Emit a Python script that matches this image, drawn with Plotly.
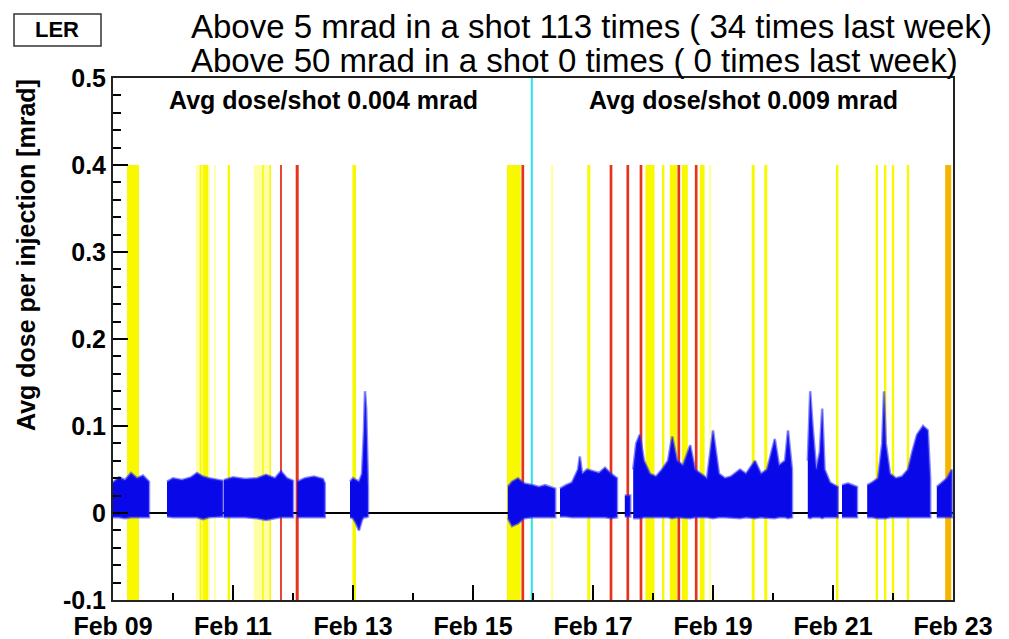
import plotly.graph_objects as go
import pandas as pd

BASE = pd.Timestamp("2021-02-09")

# ---------------- data (day offsets from Feb 09 00:00) ----------------
x_tick_days = [0, 2, 4, 6, 8, 10, 12, 14]
x_tick_text = ["Feb 09", "Feb 11", "Feb 13", "Feb 15", "Feb 17", "Feb 19", "Feb 21", "Feb 23"]
y_tick_vals = [-0.1, 0.0, 0.1, 0.2, 0.3, 0.4, 0.5]
y_tick_text = ["-0.1", "0", "0.1", "0.2", "0.3", "0.4", "0.5"]

# injection flags: bright yellow (centre day, width day)
yellow_center = [0.333, 1.46, 1.54, 1.93, 2.50, 2.62, 4.02, 6.68, 7.93, 8.95, 9.17, 9.34,
                 9.53, 9.82, 10.67, 10.88, 12.07, 12.73, 12.87, 13.0, 13.25]
yellow_width = [0.2, 0.03, 0.09, 0.04, 0.025, 0.025, 0.06, 0.23, 0.05, 0.15, 0.04, 0.12,
                0.1, 0.08, 0.05, 0.05, 0.04, 0.04, 0.04, 0.04, 0.04]
pale_center = [1.5, 1.70, 2.48, 7.32, 9.95]
pale_width = [0.23, 0.03, 0.27, 0.04, 0.04]
orange_center = [13.92]
orange_width = [0.1]
red_center = [2.8, 3.07, 6.83, 8.3, 8.58, 8.8, 9.43, 9.72]
red_width = [0.03, 0.05, 0.045, 0.045, 0.045, 0.045, 0.045, 0.045]
cyan_center = [6.98]
cyan_width = [0.035]
flag_top = 0.4

# dose per injection: envelopes of dense point clouds per run period
seg_A_x = [0.0, 0.1, 0.2, 0.3, 0.4, 0.5, 0.6]
seg_A_top = [0.035, 0.041, 0.038, 0.046, 0.040, 0.043, 0.036]
seg_A_low = [-0.005, -0.005, -0.006, -0.005, -0.005, -0.005, -0.005]
seg_B_x = [0.9, 1.0, 1.15, 1.3, 1.4, 1.5, 1.6, 1.7, 1.83]
seg_B_top = [0.036, 0.040, 0.038, 0.041, 0.046, 0.042, 0.040, 0.039, 0.037]
seg_B_low = [-0.004, -0.005, -0.005, -0.005, -0.005, -0.007, -0.005, -0.005, -0.004]
seg_C_x = [1.85, 2.0, 2.2, 2.4, 2.55, 2.7, 2.8, 2.9, 3.0]
seg_C_top = [0.038, 0.041, 0.039, 0.040, 0.044, 0.040, 0.048, 0.040, 0.037]
seg_C_low = [-0.005, -0.005, -0.005, -0.006, -0.008, -0.006, -0.005, -0.005, -0.005]
seg_D_x = [3.07, 3.2, 3.35, 3.5, 3.53]
seg_D_top = [0.036, 0.040, 0.042, 0.039, 0.034]
seg_D_low = [-0.005, -0.005, -0.005, -0.005, -0.005]
seg_E_x = [3.95, 4.0, 4.05, 4.1, 4.15, 4.18, 4.2, 4.22, 4.25]
seg_E_top = [0.036, 0.040, 0.038, 0.036, 0.045, 0.09, 0.14, 0.12, 0.03]
seg_E_low = [-0.005, -0.006, -0.012, -0.02, -0.008, -0.005, -0.005, -0.005, -0.004]
seg_F_x = [6.58, 6.65, 6.75, 6.85, 7.0, 7.1, 7.2, 7.3, 7.37]
seg_F_top = [0.030, 0.036, 0.040, 0.034, 0.032, 0.030, 0.032, 0.030, 0.028]
seg_F_low = [-0.006, -0.015, -0.012, -0.006, -0.005, -0.005, -0.005, -0.005, -0.005]
seg_G_x = [7.45, 7.55, 7.65, 7.75, 7.78, 7.82, 7.9, 8.0, 8.1, 8.2, 8.3, 8.4]
seg_G_top = [0.028, 0.032, 0.035, 0.05, 0.065, 0.045, 0.05, 0.048, 0.046, 0.052, 0.045, 0.04]
seg_G_low = [-0.004, -0.004, -0.005, -0.005, -0.005, -0.005, -0.005, -0.005, -0.005, -0.005, -0.006, -0.005]
seg_G2_x = [8.53, 8.62]
seg_G2_top = [0.02, 0.02]
seg_G2_low = [-0.004, -0.004]
seg_H_x = [8.67, 8.72, 8.78, 8.85, 8.95, 9.05, 9.15, 9.25, 9.32, 9.4, 9.5, 9.62, 9.7, 9.8,
           9.9, 10.0, 10.1, 10.2, 10.3, 10.45, 10.55, 10.7, 10.8, 10.9, 11.03, 11.1, 11.2,
           11.25, 11.317]
seg_H_top = [0.05, 0.08, 0.09, 0.06, 0.045, 0.042, 0.05, 0.06, 0.088, 0.06, 0.055, 0.078,
             0.05, 0.045, 0.04, 0.095, 0.045, 0.04, 0.042, 0.05, 0.045, 0.06, 0.045, 0.05,
             0.085, 0.055, 0.06, 0.095, 0.05]
seg_H_low = [-0.006, -0.006, -0.006, -0.005, -0.005, -0.005, -0.005, -0.005,
             -0.006, -0.005, -0.005, -0.006, -0.005, -0.005, -0.005, -0.006,
             -0.005, -0.005, -0.005, -0.006, -0.005, -0.006, -0.005, -0.005,
             -0.006, -0.005, -0.005, -0.006, -0.005]
seg_I_x = [11.58, 11.62, 11.66, 11.72, 11.78, 11.82, 11.86, 11.95, 12.08]
seg_I_top = [0.06, 0.14, 0.10, 0.05, 0.07, 0.12, 0.05, 0.035, 0.03]
seg_I_low = [-0.005, -0.006, -0.005, -0.005, -0.005, -0.006, -0.005, -0.005, -0.005]
seg_J_x = [12.15, 12.25, 12.4]
seg_J_top = [0.032, 0.034, 0.03]
seg_J_low = [-0.005, -0.005, -0.005]
seg_K_x = [12.57, 12.65, 12.75, 12.82, 12.85, 12.88, 12.95, 13.05, 13.15, 13.25, 13.32,
           13.4, 13.5, 13.58, 13.62]
seg_K_top = [0.032, 0.035, 0.04, 0.08, 0.14, 0.08, 0.045, 0.04, 0.042, 0.05, 0.07, 0.09,
             0.10, 0.095, 0.04]
seg_K_low = [-0.005, -0.005, -0.006, -0.006, -0.006, -0.006, -0.005, -0.005, -0.005,
             -0.005, -0.005, -0.005, -0.005, -0.005, -0.005]
seg_L_x = [13.73, 13.8, 13.9, 13.98]
seg_L_top = [0.03, 0.034, 0.04, 0.05]
seg_L_low = [-0.005, -0.005, -0.005, -0.005]

segments = [
    (seg_A_x, seg_A_top, seg_A_low), (seg_B_x, seg_B_top, seg_B_low),
    (seg_C_x, seg_C_top, seg_C_low), (seg_D_x, seg_D_top, seg_D_low),
    (seg_E_x, seg_E_top, seg_E_low), (seg_F_x, seg_F_top, seg_F_low),
    (seg_G_x, seg_G_top, seg_G_low), (seg_G2_x, seg_G2_top, seg_G2_low),
    (seg_H_x, seg_H_top, seg_H_low), (seg_I_x, seg_I_top, seg_I_low),
    (seg_J_x, seg_J_top, seg_J_low), (seg_K_x, seg_K_top, seg_K_low),
    (seg_L_x, seg_L_top, seg_L_low),
]


def day(d):
    return BASE + pd.Timedelta(days=d)


def ds(d):
    return day(d).strftime("%Y-%m-%d %H:%M:%S")


FONT = "Liberation Sans, Arial, Helvetica, sans-serif"

# plot area in page pixels (page has an 8px body margin)
PL, PR, PT, PB = 113, 953, 78, 600
PW, PH = PR - PL, PB - PT


def fx(px):
    return (px - PL) / PW


def fy(py):
    return (PB - py) / PH


fig = go.Figure()

for xs, tops, lows in segments:
    px = [day(v) for v in xs] + [day(v) for v in xs[::-1]]
    py = list(tops) + list(lows[::-1])
    fig.add_trace(go.Scatter(
        x=px, y=py, mode="lines", fill="toself",
        fillcolor="#0808e8",
        line=dict(color="rgba(40,40,245,0.55)", width=2.5),
        hoverinfo="skip", showlegend=False,
    ))

shapes = []


def add_flags(centers, widths, color, top):
    for c, w in zip(centers, widths):
        shapes.append(dict(type="rect", xref="x", yref="y", layer="below",
                           x0=ds(c - w / 2), x1=ds(c + w / 2), y0=-0.1, y1=top,
                           fillcolor=color, line=dict(width=0)))


add_flags(pale_center, pale_width, "#ffffa6", flag_top)
add_flags(yellow_center, yellow_width, "#f8f800", flag_top)
add_flags(orange_center, orange_width, "#f5b400", flag_top)
add_flags(red_center, red_width, "#e4341c", flag_top)
add_flags(cyan_center, cyan_width, "#2fe3ea", 0.5)

ann = []
shapes.append(dict(type="rect", xref="paper", yref="paper",
                   x0=fx(14), x1=fx(101), y0=fy(46), y1=fy(14),
                   line=dict(color="#333", width=1.5), fillcolor="white", layer="above"))
ann.append(dict(text="LER", xref="paper", yref="paper", x=fx(57), y=fy(30),
                showarrow=False, xanchor="center", yanchor="middle",
                font=dict(family=FONT, size=22, color="black", weight="bold")))
ann.append(dict(text="Above 5 mrad in a shot 113 times ( 34 times last week)",
                xref="paper", yref="paper", x=fx(189), y=fy(26),
                showarrow=False, xanchor="left", yanchor="middle",
                font=dict(family=FONT, size=33, color="black")))
ann.append(dict(text="Above 50 mrad in a shot 0 times ( 0 times last week)",
                xref="paper", yref="paper", x=fx(189), y=fy(61),
                showarrow=False, xanchor="left", yanchor="middle",
                font=dict(family=FONT, size=33, color="black")))
ann.append(dict(text="Avg dose/shot 0.004 mrad",
                xref="paper", yref="paper", x=fx(167), y=fy(100),
                showarrow=False, xanchor="left", yanchor="middle",
                font=dict(family=FONT, size=25, color="black", weight="bold")))
ann.append(dict(text="Avg dose/shot 0.009 mrad",
                xref="paper", yref="paper", x=fx(587), y=fy(100),
                showarrow=False, xanchor="left", yanchor="middle",
                font=dict(family=FONT, size=25, color="black", weight="bold")))
ann.append(dict(text="Avg dose per injection [mrad]",
                xref="paper", yref="paper", x=fx(26), y=fy(255),
                showarrow=False, xanchor="center", yanchor="middle", textangle=-90,
                font=dict(family=FONT, size=25, color="black", weight="bold")))

FIG_W, FIG_H = 1001, 631
fig.update_layout(
    width=FIG_W, height=FIG_H, autosize=False,
    margin=dict(l=PL - 8, r=FIG_W - (PR - 8), t=PT - 8, b=FIG_H - (PB - 8), pad=0),
    paper_bgcolor="white", plot_bgcolor="white",
    shapes=shapes, annotations=ann, showlegend=False,
    xaxis=dict(
        type="date", range=[ds(0), ds(14)], automargin=False,
        tickmode="array", tickvals=[ds(d) for d in x_tick_days], ticktext=x_tick_text,
        ticks="inside", ticklen=15, tickwidth=1.5, tickcolor="black",
        ticklabelstandoff=3,
        minor=dict(tickmode="linear", tick0=ds(0), dtick=86400000, ticks="inside",
                   ticklen=7, tickcolor="black", tickwidth=1.5),
        showline=True, mirror=True, linecolor="#222", linewidth=2,
        showgrid=False, zeroline=False,
        tickfont=dict(family=FONT, size=25, color="black", weight="bold"),
    ),
    yaxis=dict(
        range=[-0.1, 0.5], automargin=False,
        tickmode="array", tickvals=y_tick_vals, ticktext=y_tick_text,
        ticks="inside", ticklen=15, tickwidth=1.5, tickcolor="black",
        minor=dict(tickmode="linear", tick0=0, dtick=0.02, ticks="inside",
                   ticklen=8, tickcolor="black", tickwidth=1.5),
        showline=True, mirror=True, linecolor="#222", linewidth=2,
        showgrid=False, zeroline=True, zerolinecolor="black", zerolinewidth=1.5,
        tickfont=dict(family=FONT, size=25, color="black", weight="bold"),
    ),
)

fig.write_html("out.html")
